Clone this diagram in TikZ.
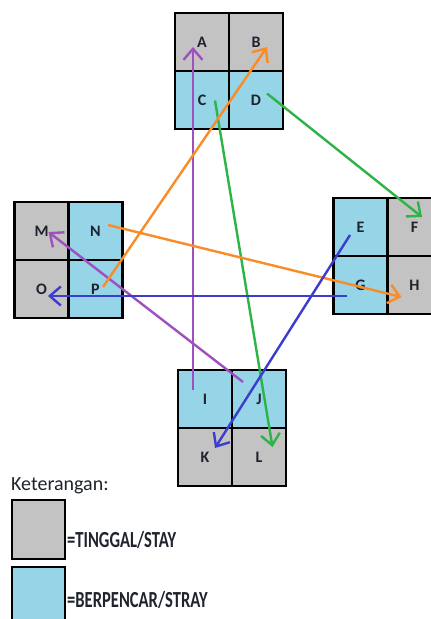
\documentclass[tikz,border=0pt]{standalone}
\usepackage{fontspec}
\setmainfont{Carlito}
\usepackage{graphicx}
\usepackage{tikz}
\usetikzlibrary{arrows.meta,positioning,calc}
\usepackage{xcolor}
\definecolor{staygray}{RGB}{195,195,195}
\definecolor{strayblue}{RGB}{150,212,232}
\definecolor{inkdark}{RGB}{30,35,45}
\definecolor{movepurple}{RGB}{160,80,190}
\definecolor{moveorange}{RGB}{250,140,40}
\definecolor{movegreen}{RGB}{45,180,70}
\definecolor{moveblue}{RGB}{60,60,205}
\tikzset{
  cellgray/.style={rectangle, draw=black, line width=2.6pt, fill=staygray, outer sep=0pt,
                   inner sep=0pt, minimum width=54pt, minimum height=58pt,
                   text=inkdark, font=\fontsize{16}{18}\selectfont\bfseries},
  cellblue/.style={cellgray, fill=strayblue},
  legendbox/.style={rectangle, draw=black, line width=2.8pt, outer sep=0pt,
                    minimum width=53pt, minimum height=59pt},
  legendtext/.style={inner sep=0pt, text=inkdark, font=\fontsize{23}{25}\selectfont\bfseries},
  move/.style={-{Straight Barb[length=11pt,width=19pt]}, line width=2.4pt},
}
\begin{document}
\begin{tikzpicture}[x=1pt, y=-1pt, node distance=0pt]
\useasboundingbox (0,0) rectangle (431,619);
\fill[white] (0,0) rectangle (431,619);

% top group
\node[cellgray] (A) at (202,42) {A};
\node[cellgray, right=of A] (B) {B};
\node[cellblue, below=of A] (C) {C};
\node[cellblue, below=of B] (D) {D};

% left group
\node[cellgray] (M) at (41.5,231) {M};
\node[cellblue, right=of M] (N) {N};
\node[cellgray, below=of M] (O) {O};
\node[cellblue, below=of N] (P) {P};

% right group
\node[cellblue] (E) at (360.5,227) {E};
\node[cellgray, right=of E] (F) {F};
\node[cellblue, below=of E] (G) {G};
\node[cellgray, below=of F] (H) {H};

% bottom group
\node[cellblue] (I) at (205,399) {I};
\node[cellblue, right=of I] (J) {J};
\node[cellgray, below=of I] (K) {K};
\node[cellgray, below=of J] (L) {L};

% movements
\foreach \s/\sx/\sy/\t/\tx/\ty/\col in {
    I/-12/-9/A/-9/5/movepurple, J/-16/-17/M/7/1/movepurple,
    D/11/-6.5/F/7.5/-10/movegreen, C/13/0.5/L/13.5/-10/movegreen,
    P/7.5/-2/B/11/5/moveorange, N/12.5/-6/H/-13/12/moveorange,
    E/-10.5/8/K/10/-9/moveblue, G/-13.5/11/O/6.5/7/moveblue}
  \draw[move, \col] ($(\s)+(\sx,\sy)$) -- ($(\t)+(\tx,\ty)$);

% legend
\node[legendtext, anchor=base west, font=\fontsize{20}{22}\selectfont] (legtitle) at (11,490) {Keterangan:};
\node[legendbox, fill=staygray] (legstay) at (38.5,529.5) {};
\node[legendbox, fill=strayblue, below=8pt of legstay] (legstray) {};
\node[legendtext, right=2pt of legstay, yshift=-10pt] (staytext) {\scalebox{0.72}[1]{=TINGGAL/STAY}};
\node[legendtext, right=2pt of legstray, yshift=-3pt] (straytext) {\scalebox{0.72}[1]{=BERPENCAR/STRAY}};
\end{tikzpicture}
\end{document}
